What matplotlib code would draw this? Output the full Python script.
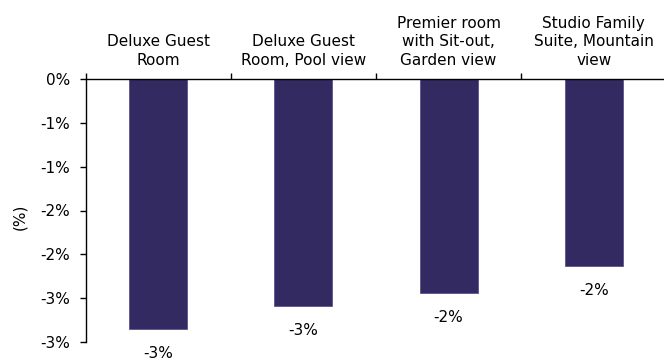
import matplotlib
matplotlib.use("Agg")
import matplotlib.pyplot as plt
from matplotlib.ticker import FixedLocator

categories = ["Deluxe Guest\nRoom", "Deluxe Guest\nRoom, Pool view",
              "Premier room\nwith Sit-out,\nGarden view", "Studio Family\nSuite, Mountain\nview"]
values = [-2.855, -2.592, -2.447, -2.134]
y_ticks = [0, -0.5, -1.0, -1.5, -2.0, -2.5, -3.0]
y_tick_labels = ["0%", "-1%", "-1%", "-2%", "-2%", "-3%", "-3%"]
data_labels = ["-3%", "-3%", "-2%", "-2%"]

plt.rcParams['font.family'] = ['DejaVu Sans']
fig = plt.figure(figsize=(6.64, 3.62), dpi=100)
ax = fig.add_axes([85.5/664, (362-341.7)/362, 581/664, 262.4/362])

x = list(range(len(categories)))
bars = ax.bar(x, values, width=0.4, color='#322a60', edgecolor='#5b5391', linewidth=0.6, zorder=2)

ax.set_xlim(-0.5, len(categories) - 0.5)
ax.set_ylim(-3.0, 0)

ax.xaxis.tick_top()
ax.set_xticks(x)
ax.set_xticklabels(categories, fontsize=11, linespacing=1.32)
ax.xaxis.set_minor_locator(FixedLocator([i - 0.5 for i in range(len(categories) + 1)]))
ax.tick_params(axis='x', which='major', length=0, pad=8)
ax.tick_params(axis='x', which='minor', length=4, width=1, direction='out', top=True, bottom=False)

ax.set_yticks(y_ticks)
ax.set_yticklabels(y_tick_labels, fontsize=11)
ax.tick_params(axis='y', length=4, width=1, direction='out', pad=7)

for s in ['right', 'bottom']:
    ax.spines[s].set_visible(False)
ax.spines['top'].set_linewidth(1.0)
ax.spines['left'].set_linewidth(1.0)

ax.set_ylabel("(%)", fontsize=11)
ax.yaxis.set_label_coords((27 - 85.5) / 581, (341.7 - 216.7) / 262.4)

for xi, v, lab in zip(x, values, data_labels):
    ax.annotate(lab, xy=(xi, v), xytext=(0, -21), textcoords='offset points',
                ha='center', va='baseline', fontsize=11, annotation_clip=False)

fig.savefig("out.png", dpi=100)
